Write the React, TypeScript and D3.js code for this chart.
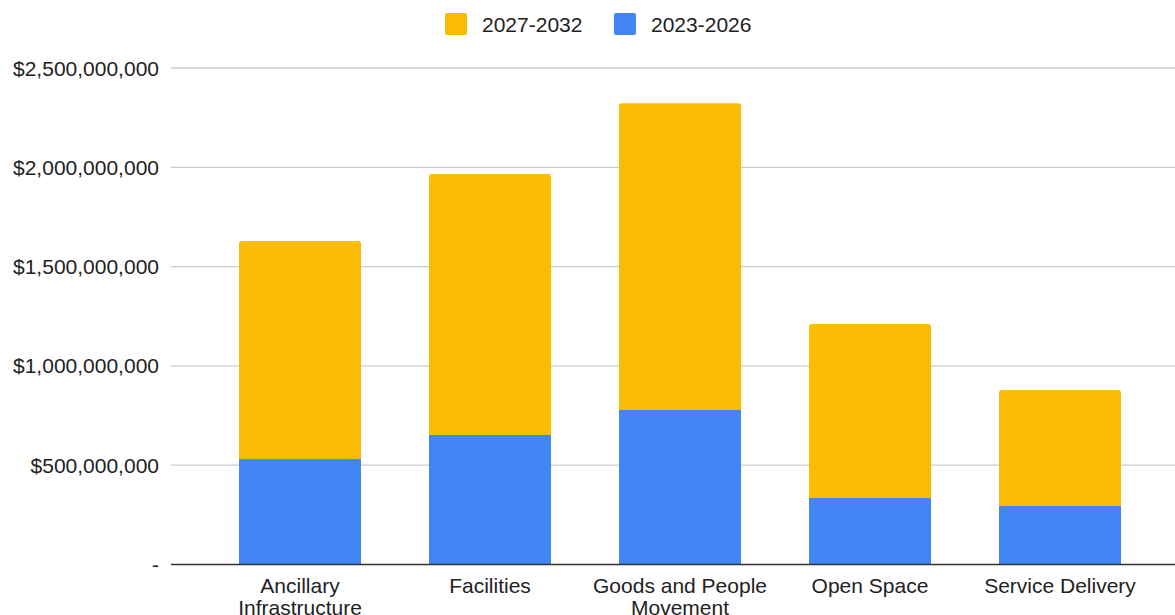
import React from "react";
import * as d3 from "d3";

const categories: string[][] = [
  ["Ancillary", "Infrastructure"],
  ["Facilities"],
  ["Goods and People", "Movement"],
  ["Open Space"],
  ["Service Delivery"],
];
const series2023_2026: number[] = [531e6, 652e6, 778e6, 335e6, 295e6];
const series2027_2032: number[] = [1098e6, 1314e6, 1544e6, 876e6, 584e6];
const yTicks: number[] = [0, 500e6, 1000e6, 1500e6, 2000e6, 2500e6];
const seriesNames = ["2027-2032", "2023-2026"];

const W = 1175;
const H = 615;
const BLUE = "#4285F4";
const YELLOW = "#FBBC04";
const FONT = "'Liberation Sans', Arial, sans-serif";

function topRounded(x: number, y: number, w: number, h: number, r: number) {
  const rr = Math.min(r, h, w / 2);
  return `M${x},${y + h}V${y + rr}Q${x},${y} ${x + rr},${y}H${x + w - rr}Q${x + w},${y} ${x + w},${y + rr}V${y + h}Z`;
}

export default function App() {
  const keys = categories.map((c) => c.join(" "));
  const x = d3.scaleBand<string>().domain(keys).range([205, 1155]).paddingInner(0.358).paddingOuter(0.179);
  const y = d3.scaleLinear().domain([0, 2.5e9]).range([564.5, 68]);
  const fmt = (v: number) => (v === 0 ? "-" : "$" + d3.format(",")(v));

  return (
    <svg width={W} height={H} style={{ position: "absolute", left: 0, top: 0, background: "#fff" }} fontFamily={FONT}>
      {yTicks.map((t) => (
        <g key={t}>
          {t !== 0 && <line x1={171} x2={W} y1={y(t)} y2={y(t)} stroke="#cccccc" strokeWidth={1.3} />}
          <text x={159} y={y(t)} dy="0.36em" textAnchor="end" fontSize={21} fill="#222">
            {fmt(t)}
          </text>
        </g>
      ))}
      {keys.map((k, i) => {
        const bx = x(k)!;
        const bw = x.bandwidth();
        const b0 = series2023_2026[i];
        const b1 = series2027_2032[i];
        return (
          <g key={k}>
            <rect x={bx} y={y(b0)} width={bw} height={y(0) - y(b0)} fill={BLUE} />
            <path d={topRounded(bx, y(b0 + b1), bw, y(b0) - y(b0 + b1), 3)} fill={YELLOW} />
          </g>
        );
      })}
      <line x1={171} x2={W} y1={y(0)} y2={y(0)} stroke="#333" strokeWidth={1.5} />
      {categories.map((c, i) => (
        <text key={i} x={x(keys[i])! + x.bandwidth() / 2} y={593.3} textAnchor="middle" fontSize={21} fill="#222">
          {c.map((line, j) => (
            <tspan key={j} x={x(keys[i])! + x.bandwidth() / 2} dy={j === 0 ? 0 : 21.5}>
              {line}
            </tspan>
          ))}
        </text>
      ))}
      {seriesNames.map((s, i) => {
        const lx = i === 0 ? 445 : 614;
        return (
          <g key={s}>
            <rect x={lx} y={13} width={22} height={22} rx={2} fill={i === 0 ? YELLOW : BLUE} />
            <text x={lx + 37} y={31.5} fontSize={21} fill="#222">
              {s}
            </text>
          </g>
        );
      })}
    </svg>
  );
}
